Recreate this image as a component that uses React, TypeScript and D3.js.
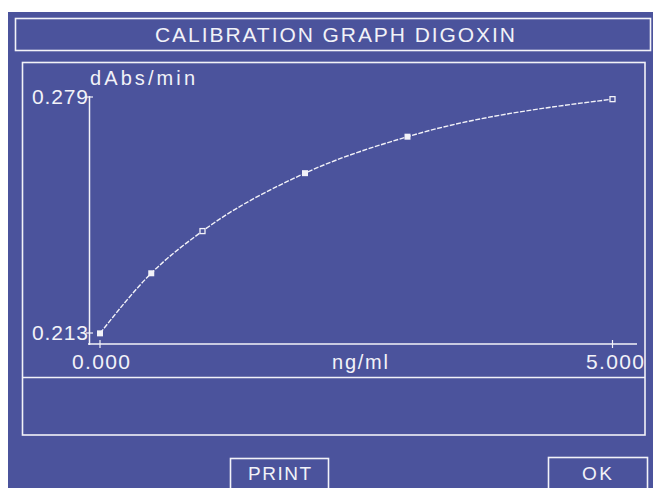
import React from "react";
import * as d3 from "d3";

const concentrations = [0, 0.5, 1, 2, 3, 5];
const rates = [0.2129, 0.2297, 0.2415, 0.2577, 0.2679, 0.2784];
const hollowMarkers = [false, false, true, false, false, true];
const xTicks = [0, 5];
const yTicks = [0.213, 0.279];
const titleText = "CALIBRATION GRAPH DIGOXIN";
const yUnit = "dAbs/min";
const xUnit = "ng/ml";

const W = 653;
const H = 488;
const BG = "#4b539c";
const FG = "#f2f2f8";
const FONT = "'Liberation Sans', Arial, sans-serif";

export default function App() {
  const x = d3.scaleLinear().domain([0, 5]).range([100, 612.5]);
  const y = d3.scaleLinear().domain([0.213, 0.279]).range([333, 97]);
  const pts = concentrations.map((c, i) => [x(c), y(rates[i])] as [number, number]);
  const line = d3.line().curve(d3.curveMonotoneX)(pts) || "";
  const fmt = d3.format(".3f");

  return (
    <svg
      width={W}
      height={H}
      style={{ position: "absolute", left: 0, top: 0, display: "block" }}
      fontFamily={FONT}
    >
      <rect x={0} y={0} width={W} height={H} fill="#ffffff" />
      <rect x={8} y={12} width={W - 8} height={H - 12} fill={BG} />

      {/* title box */}
      <rect x={15.5} y={18.5} width={635} height={32} fill="none" stroke={FG} strokeWidth={1.6} />
      <text
        x={155}
        y={42}
        fontSize={21}
        fill={FG}
        textLength={360}
        lengthAdjust="spacing"
      >
        {titleText}
      </text>

      {/* chart box */}
      <rect x={22.5} y={62.5} width={622.5} height={372.5} fill="none" stroke={FG} strokeWidth={1.6} />
      <line x1={22.5} x2={645} y1={377.5} y2={377.5} stroke={FG} strokeWidth={1.6} />

      {/* axes */}
      <line x1={89.5} x2={89.5} y1={96} y2={345} stroke={FG} strokeWidth={1.5} />
      <line x1={88} x2={637} y1={344} y2={344} stroke={FG} strokeWidth={1.5} />
      {yTicks.map((t) => (
        <g key={"y" + t}>
          <line x1={86} x2={93} y1={y(t)} y2={y(t)} stroke={FG} strokeWidth={1.2} />
          <text
            x={88}
            y={y(t) + 7}
            fontSize={21}
            fill={FG}
            textAnchor="end"
            textLength={56}
            lengthAdjust="spacing"
          >
            {fmt(t)}
          </text>
        </g>
      ))}
      {xTicks.map((t) => (
        <line key={"x" + t} x1={x(t)} x2={x(t)} y1={340} y2={348} stroke={FG} strokeWidth={1.2} />
      ))}
      <text x={72} y={368.5} fontSize={21} fill={FG} textLength={58} lengthAdjust="spacing">
        {fmt(xTicks[0])}
      </text>
      <text x={586} y={368.5} fontSize={21} fill={FG} textLength={58} lengthAdjust="spacing">
        {fmt(xTicks[1])}
      </text>
      <text x={332} y={368.5} fontSize={20} fill={FG} textLength={56} lengthAdjust="spacing">
        {xUnit}
      </text>
      <text x={90} y={85} fontSize={20} fill={FG} textLength={105} lengthAdjust="spacing">
        {yUnit}
      </text>

      {/* curve */}
      <path d={line} fill="none" stroke={FG} strokeWidth={1.4} strokeDasharray="5 1.5" />
      {pts.map((p, i) =>
        hollowMarkers[i] ? (
          <rect
            key={i}
            x={p[0] - 2.5}
            y={p[1] - 2.5}
            width={5}
            height={5}
            fill={BG}
            stroke={FG}
            strokeWidth={1.3}
          />
        ) : (
          <rect key={i} x={p[0] - 3} y={p[1] - 3} width={6} height={6} fill={FG} />
        )
      )}

      {/* buttons */}
      <rect x={230.5} y={458.5} width={98} height={34} fill="none" stroke={FG} strokeWidth={1.6} />
      <text x={279.5} y={479.5} fontSize={19} fill={FG} textAnchor="middle" textLength={63} lengthAdjust="spacing">
        PRINT
      </text>
      <rect x={548.5} y={457.5} width={99} height={34} fill="none" stroke={FG} strokeWidth={1.6} />
      <text x={597} y={479.5} fontSize={19} fill={FG} textAnchor="middle" textLength={30} lengthAdjust="spacing">
        OK
      </text>
    </svg>
  );
}
